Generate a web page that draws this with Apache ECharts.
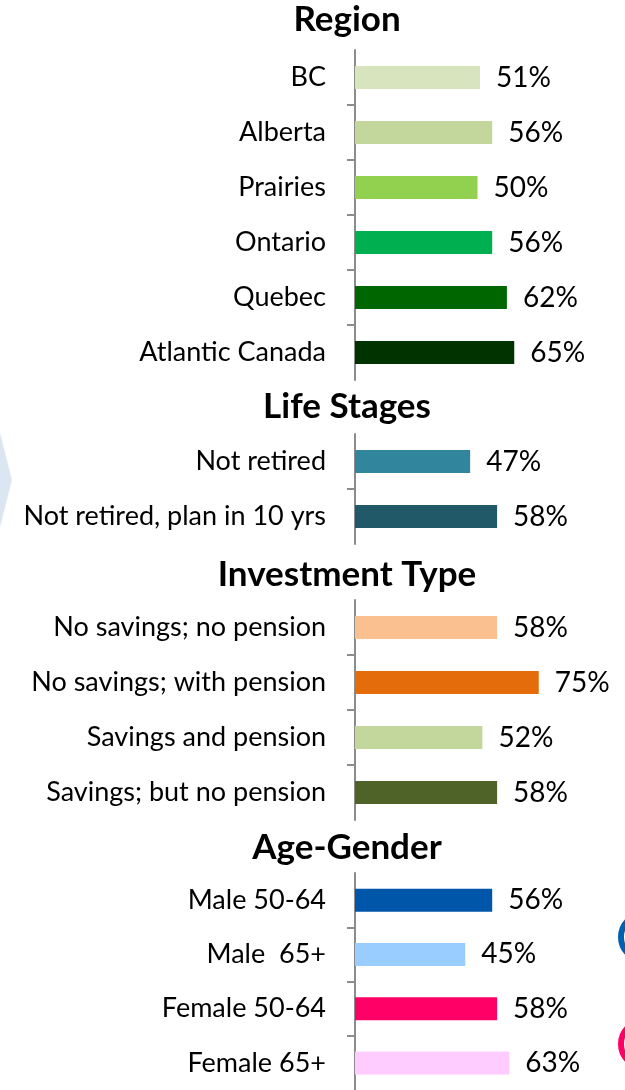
<!DOCTYPE html>
<html>
<head>
<meta charset="utf-8">
<script src="https://cdn.jsdelivr.net/npm/echarts@6/dist/echarts.min.js"></script>
<style>
  html, body { margin: 0; padding: 0; background: #fff; }
  #main { width: 625px; height: 1090px; }
</style>
</head>
<body>
<div id="main"></div>
<script>
// data
var groupTitles = ['Region', 'Life Stages', 'Investment Type', 'Age-Gender'];

var regionCats = ['BC', 'Alberta', 'Prairies', 'Ontario', 'Quebec', 'Atlantic Canada'];
var regionVals = [51, 56, 50, 56, 62, 65];

var lifeCats = ['Not retired', 'Not retired, plan in 10 yrs'];
var lifeVals = [47, 58];

var investCats = ['No savings; no pension', 'No savings; with pension', 'Savings and pension', 'Savings; but no pension'];
var investVals = [58, 75, 52, 58];

var ageCats = ['Male 50-64', 'Male  65+', 'Female 50-64', 'Female 65+'];
var ageVals = [56, 45, 58, 63];

// colours per bar
var regionColors = ['#d7e4bd', '#c3d69b', '#92d050', '#00b050', '#006600', '#003300'];
var lifeColors = ['#31859c', '#215968'];
var investColors = ['#fac090', '#e46c0a', '#c3d69b', '#4f6228'];
var ageColors = ['#0056a8', '#99ccff', '#ff0066', '#ffccff'];

var groups = [
  { cats: regionCats, vals: regionVals, colors: regionColors },
  { cats: lifeCats, vals: lifeVals, colors: lifeColors },
  { cats: investCats, vals: investVals, colors: investColors },
  { cats: ageCats, vals: ageVals, colors: ageColors }
];

// layout (px)
var gridTops = [50, 434, 600, 873];
var rowH = 55;
var titleY = [20, 407, 575, 848];
var FONT = 'Lato, "Open Sans", sans-serif';
var AXIS_GREY = '#8c8c8c';

var grids = [], xAxes = [], yAxes = [], series = [], graphics = [];

groups.forEach(function (g, i) {
  var n = g.cats.length;
  grids.push({ left: 355, width: 245, top: gridTops[i], height: n * rowH });
  xAxes.push({ type: 'value', gridIndex: i, min: 0, max: 100, show: false });

  // category axis: labels only
  yAxes.push({
    type: 'category', gridIndex: i, inverse: true, data: g.cats, position: 'left',
    axisLine: { show: false },
    axisTick: { show: false },
    axisLabel: { margin: 29, fontSize: 27, color: '#000', fontFamily: FONT }
  });
  // helper axis: line + ticks only between rows
  var between = [];
  for (var k = 1; k < n; k++) between.push(k);
  yAxes.push({
    type: 'value', gridIndex: i, min: 0, max: n, inverse: true, position: 'left',
    axisLine: { show: true, onZero: false, lineStyle: { color: AXIS_GREY, width: 2 } },
    axisTick: { show: true, length: 8, customValues: between,
      lineStyle: { color: AXIS_GREY, width: 2 } },
    axisLabel: { show: false },
    splitLine: { show: false }
  });

  series.push({
    type: 'bar', xAxisIndex: i, yAxisIndex: i * 2, barWidth: 23,
    data: g.vals.map(function (v, k) {
      return { value: v, itemStyle: { color: g.colors[k] } };
    }),
    label: {
      show: true, position: 'right', distance: 16, formatter: '{c}%',
      fontSize: 28, color: '#000', fontFamily: FONT
    }
  });
  graphics.push({
    type: 'text', x: 347, y: titleY[i],
    style: { text: groupTitles[i], fill: '#000', font: 'bold 35px ' + FONT,
      textAlign: 'center', textVerticalAlign: 'middle' }
  });
});

// decorative shapes from the slide
graphics.push({
  type: 'polygon', z: -1,
  shape: { points: [[0, 433], [12, 480], [0, 527]] },
  style: { fill: '#dce6f2' }
});
graphics.push({
  type: 'circle', shape: { cx: 644, cy: 937, r: 23 },
  style: { fill: 'none', stroke: '#0060b0', lineWidth: 6 }
});
graphics.push({
  type: 'circle', shape: { cx: 644, cy: 1044, r: 23 },
  style: { fill: 'none', stroke: '#ff0066', lineWidth: 6 }
});

var chart = echarts.init(document.getElementById('main'));
chart.setOption({
  animation: false,
  grid: grids,
  xAxis: xAxes,
  yAxis: yAxes,
  series: series,
  graphic: graphics
});
</script>
</body>
</html>
